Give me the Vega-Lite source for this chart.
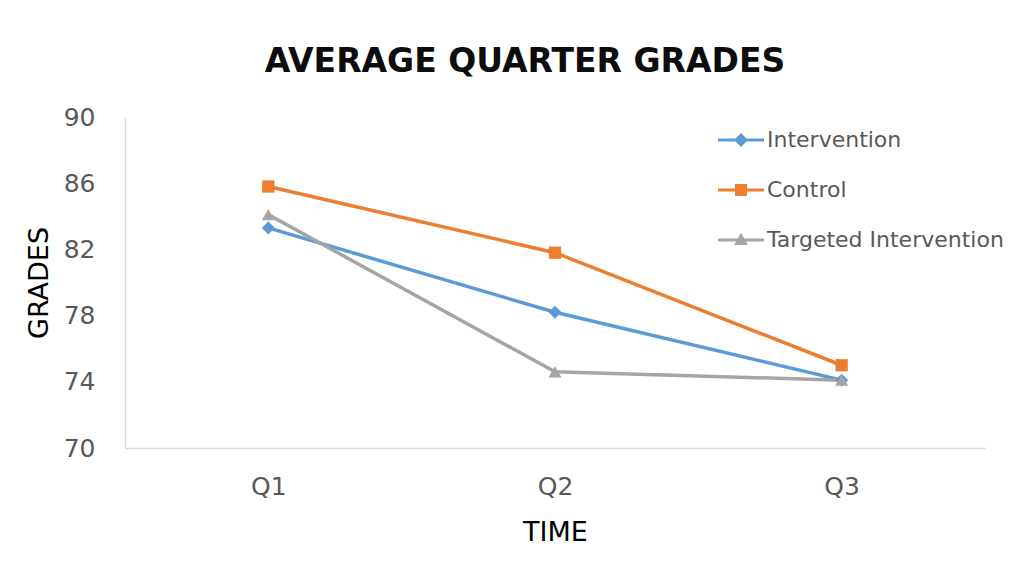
{
  "$schema": "https://vega.github.io/schema/vega-lite/v6.json",
  "autosize": "none",
  "width": 860,
  "height": 331,
  "padding": {"left": 125, "top": 117, "right": 47, "bottom": 118},
  "background": "white",
  "config": {
    "view": {"stroke": null},
    "font": "DejaVu Sans"
  },
  "title": {
    "text": "AVERAGE QUARTER GRADES",
    "font": "DejaVu Sans",
    "fontSize": 33,
    "fontWeight": "bold",
    "color": "#0d0d0d",
    "anchor": "middle",
    "frame": "group",
    "dx": -30,
    "offset": 26
  },
  "data": {
    "values": [
      {"quarter": "Q1", "group": "Intervention", "grade": 83.3},
      {"quarter": "Q2", "group": "Intervention", "grade": 78.2},
      {"quarter": "Q3", "group": "Intervention", "grade": 74.1},
      {"quarter": "Q1", "group": "Control", "grade": 85.8},
      {"quarter": "Q2", "group": "Control", "grade": 81.8},
      {"quarter": "Q3", "group": "Control", "grade": 75.0},
      {"quarter": "Q1", "group": "Targeted Intervention", "grade": 84.1},
      {"quarter": "Q2", "group": "Targeted Intervention", "grade": 74.6},
      {"quarter": "Q3", "group": "Targeted Intervention", "grade": 74.1}
    ]
  },
  "encoding": {
    "x": {
      "field": "quarter",
      "type": "ordinal",
      "scale": {"type": "point", "padding": 0.5},
      "axis": {
        "title": "TIME",
        "labelAngle": 0,
        "ticks": false,
        "grid": false,
        "domainColor": "#d9d9d9",
        "domainWidth": 1.5,
        "labelFont": "DejaVu Sans",
        "labelFontSize": 25,
        "labelColor": "#595959",
        "labelPadding": 26,
        "titleFont": "DejaVu Sans",
        "titleFontSize": 27,
        "titleFontWeight": "normal",
        "titleColor": "#000000",
        "titlePadding": 20
      }
    },
    "y": {
      "field": "grade",
      "type": "quantitative",
      "scale": {"domain": [70, 90], "nice": false, "zero": false},
      "axis": {
        "title": "GRADES",
        "values": [70, 74, 78, 82, 86, 90],
        "ticks": false,
        "grid": false,
        "domainColor": "#d9d9d9",
        "domainWidth": 1.5,
        "labelFont": "DejaVu Sans",
        "labelFontSize": 25,
        "labelColor": "#595959",
        "labelPadding": 30,
        "titleFont": "DejaVu Sans",
        "titleFontSize": 27,
        "titleFontWeight": "normal",
        "titleColor": "#000000",
        "titlePadding": 10
      }
    },
    "color": {
      "field": "group",
      "type": "nominal",
      "scale": {
        "domain": ["Intervention", "Control", "Targeted Intervention"],
        "range": ["#5b9bd5", "#ed7d31", "#a5a5a5"]
      },
      "legend": {
        "title": null,
        "orient": "none",
        "legendX": 593,
        "legendY": 0,
        "padding": 0,
        "rowPadding": 16,
        "symbolSize": 2116,
        "labelFont": "DejaVu Sans",
        "labelFontSize": 22,
        "labelColor": "#595959",
        "labelOffset": 3,
        "labelLimit": 0,
        "encode": {
          "symbols": {
            "update": {
              "shape": {"signal": "datum.value === 'Intervention' ? 'M-1,-0.07H1V0.07H-1Z M0,-0.3L0.3,0L0,0.3L-0.3,0Z' : datum.value === 'Control' ? 'M-1,-0.07H1V0.07H-1Z M-0.26,-0.26H0.26V0.26H-0.26Z' : 'M-1,-0.07H1V0.07H-1Z M0,-0.32L0.3,0.22H-0.3Z'"},
              "fill": {"signal": "scale('color', datum.value)"},
              "fillOpacity": {"value": 1},
              "strokeWidth": {"value": 0}
            }
          }
        }
      }
    }
  },
  "layer": [
    {
      "mark": {"type": "line", "strokeWidth": 3.5},
      "encoding": {
        "order": {"field": "quarter"},
        "detail": {"field": "group"}
      }
    },
    {
      "transform": [{"filter": "datum.group === 'Intervention'"}],
      "mark": {"type": "point", "shape": "diamond", "filled": true, "opacity": 1, "size": 170}
    },
    {
      "transform": [{"filter": "datum.group === 'Control'"}],
      "mark": {"type": "point", "shape": "square", "filled": true, "opacity": 1, "size": 150}
    },
    {
      "transform": [{"filter": "datum.group === 'Targeted Intervention'"}],
      "mark": {"type": "point", "shape": "triangle-up", "filled": true, "opacity": 1, "size": 170}
    }
  ]
}
